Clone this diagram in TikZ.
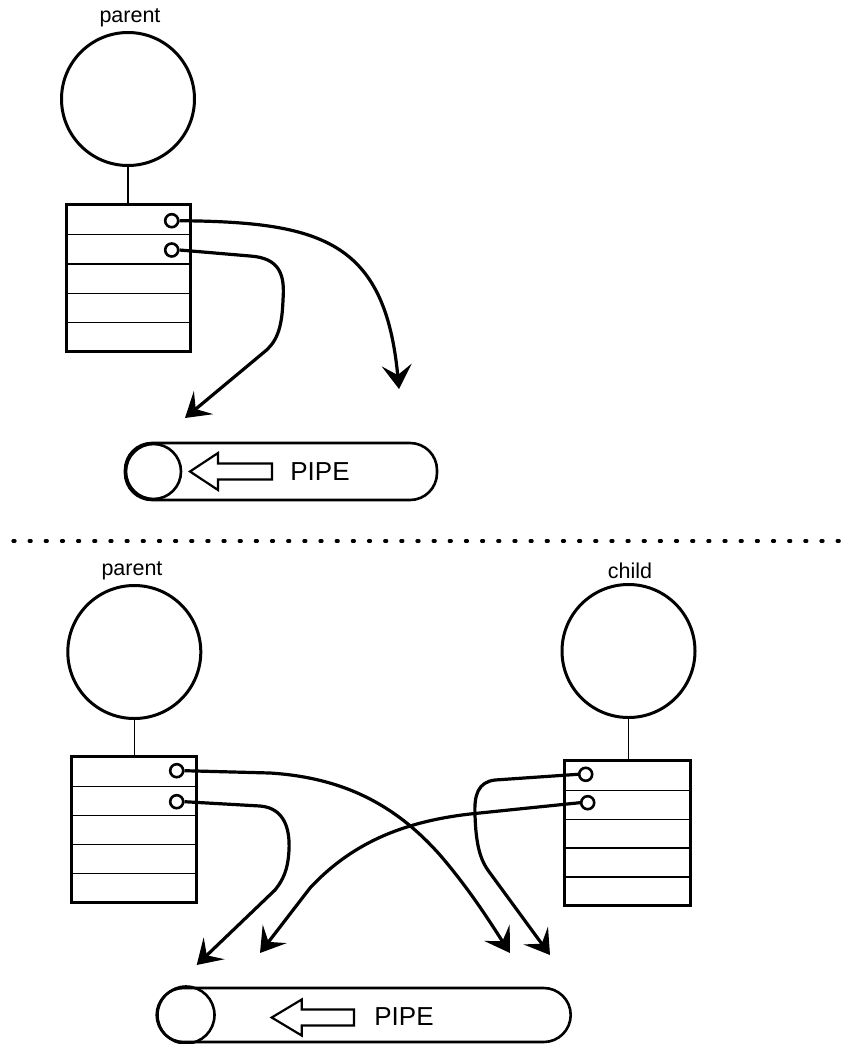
\documentclass[tikz,border=0pt]{standalone}
\usepackage{fontspec}
\setmainfont{Liberation Sans}
\usetikzlibrary{arrows.meta,calc}

\tikzset{
  proc/.style={draw, circle, line width=3pt, minimum size=133pt, inner sep=0pt},
  table/.style={draw, rectangle, line width=3pt, inner sep=0pt},
  fd/.style={draw, circle, line width=2.6pt, minimum size=13pt, inner sep=0pt, fill=white},
  stem/.style={line width=1.1pt},
  rowline/.style={line width=1.3pt},
  conn/.style={line width=3.2pt, -{Stealth[length=24pt, width=30pt, inset=10pt]}},
  pipebody/.style={draw, rectangle, rounded corners=27pt, line width=2.6pt, inner sep=0pt},
  pipeend/.style={draw, circle, line width=2.6pt, inner sep=0pt},
  hollow/.style={line width=2.2pt, line join=miter},
  lbl/.style={font=\fontsize{21.5}{25}\selectfont, inner sep=0pt},
  pipelbl/.style={font=\fontsize{26}{30}\selectfont, inner sep=0pt},
  sep/.style={line width=3.2pt, line cap=round, dash pattern=on 2pt off 14.16pt}
}

% draw the four row separators of a descriptor table
\newcommand{\tablerows}[1]{%
  \foreach \f in {0.215,0.41,0.605,0.80}
    \draw[rowline] ($(#1.north west)!\f!(#1.south west)$) -- ($(#1.north east)!\f!(#1.south east)$);%
}

\begin{document}
\begin{tikzpicture}[x=1pt, y=-1pt]
\useasboundingbox (0,0) rectangle (857,1044);

% ---------- before fork ----------
\node[lbl] (lblA) at (130,18) {parent};
\node[proc] (parA) at (128,99) {};
\node[table, minimum width=124pt, minimum height=147pt] (tabA) at (128,277.5) {};
\tablerows{tabA}
\draw[stem] (parA.south) -- (parA.south |- tabA.north);
\node[fd] (a1) at (171.7,220.7) {};
\node[fd] (a2) at (171.7,250) {};

\node[pipebody, minimum width=312pt, minimum height=57pt] (pipeA) at (281,471.5) {};
\node[pipeend, minimum size=55pt] (endA) at (153.5,471.5) {};
\draw[hollow] (190,471.5) -- (218,453) -- (218,463.5) -- (272,463.5) -- (272,479.5)
  -- (218,479.5) -- (218,490) -- cycle;
\node[pipelbl] (pipeAlbl) at (320,472) {PIPE};

\coordinate (a1end) at (399,389);
\coordinate (a2end) at (185,418);
\draw[conn] (a1.east) .. controls (320,222) and (385,240) .. (a1end);
\draw[conn] (a2.east) -- (250,256) .. controls (280,258) and (285,275) .. (283,300)
  .. controls (282,330) and (276,343) .. (263,353) -- (a2end);

% ---------- separator ----------
\coordinate (sepL) at (13,541);
\coordinate (sepR) at (852,541);
\draw[sep] (sepL) -- (sepR);

% ---------- after fork ----------
\node[lbl] (lblB) at (132,571) {parent};
\node[proc] (parB) at (134.3,652) {};
\node[table, minimum width=125pt, minimum height=146pt] (tabB) at (134.2,829) {};
\tablerows{tabB}
\draw[stem] (parB.south) -- (parB.south |- tabB.north);
\node[fd] (b1) at (176.7,770.7) {};
\node[fd] (b2) at (176.7,801.7) {};

\node[lbl] (lblC) at (630,571) {child};
\node[proc] (chC) at (628.5,651) {};
\node[table, minimum width=126pt, minimum height=145pt] (tabC) at (627,832.5) {};
\tablerows{tabC}
\draw[stem] (chC.south) -- (chC.south |- tabC.north);
\node[fd] (c1) at (585.7,774.3) {};
\node[fd] (c2) at (587.7,802.7) {};

\node[pipebody, minimum width=414pt, minimum height=54pt] (pipeB) at (363.7,1015) {};
\node[pipeend, minimum size=57pt] (endB) at (186,1015) {};
\draw[hollow] (271.7,1017.5) -- (301.7,999.5) -- (301.7,1009.5) -- (354,1009.5) -- (354,1025.5)
  -- (301.7,1025.5) -- (301.7,1035.5) -- cycle;
\node[pipelbl] (pipeBlbl) at (404,1017) {PIPE};

\coordinate (b1end) at (510,953);
\coordinate (b2end) at (196.7,965);
\coordinate (c1end) at (550,955);
\coordinate (c2end) at (260,953);
\draw[conn] (b1.east) -- (270,773) .. controls (350,778) and (400,810) .. (440,855)
  .. controls (470,890) and (490,922) .. (b1end);
\draw[conn] (b2.east) -- (260,806) .. controls (285,808) and (290,830) .. (289,850)
  .. controls (288,870) and (283,880) .. (275,890) -- (b2end);
\draw[conn] (c1.west) -- (495,780) .. controls (478,782) and (474,795) .. (475,815)
  .. controls (476,845) and (480,860) .. (490,873) -- (c1end);
\draw[conn] (c2.west) -- (470,814) .. controls (400,822) and (350,845) .. (310,888) -- (c2end);
\end{tikzpicture}
\end{document}
